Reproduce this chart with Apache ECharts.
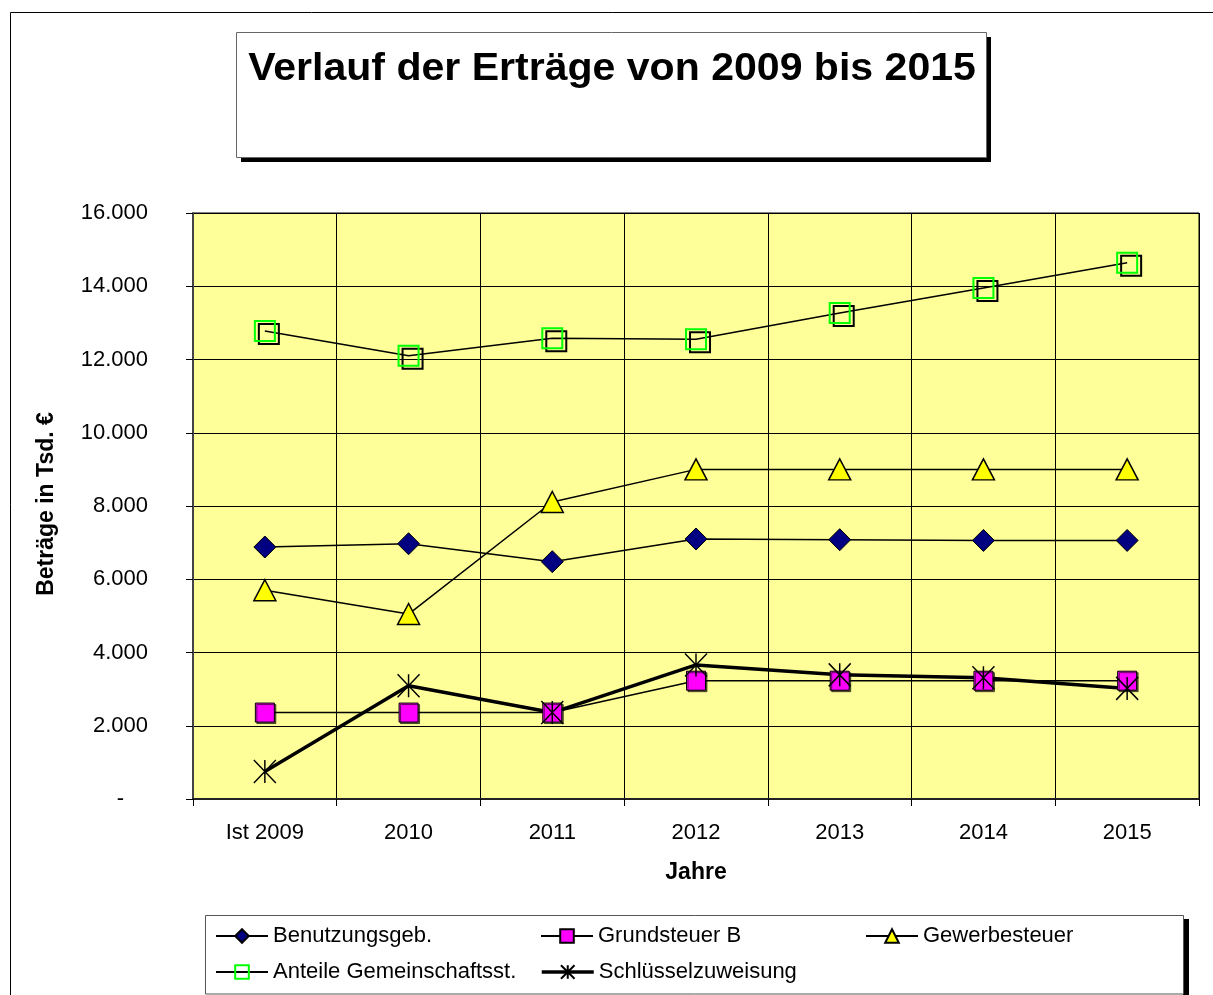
<!DOCTYPE html>
<html>
<head>
<meta charset="utf-8">
<script src="https://cdn.jsdelivr.net/npm/echarts@6/dist/echarts.min.js"></script>
<style>
html,body{margin:0;padding:0;background:#fff;}
#chart{width:1213px;height:995px;}
</style>
</head>
<body>
<div id="chart"></div>
<script>
const titleText = 'Verlauf der Erträge von 2009 bis 2015';
const yAxisTitle = 'Beträge in Tsd. €';
const xAxisTitle = 'Jahre';
const categories = ['Ist 2009', '2010', '2011', '2012', '2013', '2014', '2015'];
const seriesNames = ['Benutzungsgeb.', 'Grundsteuer B', 'Gewerbesteuer', 'Anteile Gemeinschaftsst.', 'Schlüsselzuweisung'];
const benutzungsgeb = [6880, 6970, 6480, 7100, 7080, 7060, 7060];
const grundsteuerB = [2360, 2360, 2360, 3230, 3230, 3230, 3230];
const gewerbesteuer = [5700, 5050, 8110, 9000, 9000, 9000, 9000];
const anteileGemeinschaftsst = [12780, 12100, 12580, 12550, 13270, 13950, 14640];
const schluesselzuweisung = [750, 3090, 2360, 3660, 3390, 3310, 3020];
const yMin = 0, yMax = 16000, yStep = 2000;

const FONT = "'Liberation Sans', Arial, sans-serif";
const chart = echarts.init(document.getElementById('chart'), null, {renderer: 'canvas'});

function fmt(v) {
  if (v === 0) return '{d|-}';
  return String(v).replace(/\B(?=(\d{3})+(?!\d))/g, '.');
}

const baseLine = {color: '#000', width: 1.5};
const legendCommon = {
  padding: 0, itemWidth: 52, itemHeight: 17, itemGap: 0,
  textStyle: {fontFamily: FONT, fontSize: 22, color: '#000'},
  selectedMode: false
};

const option = {
  animation: false,
  backgroundColor: '#fff',
  grid: {left: 193, top: 213, width: 1006, height: 586, show: true,
         backgroundColor: '#FFFF99', borderColor: '#000', borderWidth: 1, containLabel: false},
  xAxis: {
    type: 'category', data: categories, boundaryGap: true,
    axisLine: {lineStyle: {color: '#222', width: 2}},
    axisTick: {show: true, length: 7, lineStyle: {color: '#000', width: 1}},
    axisLabel: {fontFamily: FONT, fontSize: 22, color: '#000', margin: 23},
    splitLine: {show: true, lineStyle: {color: '#000', width: 1}}
  },
  yAxis: {
    type: 'value', min: yMin, max: yMax, interval: yStep,
    axisLine: {show: true, lineStyle: {color: '#444', width: 2}},
    axisTick: {show: true, length: 7, lineStyle: {color: '#000', width: 1}},
    axisLabel: {fontFamily: FONT, fontSize: 22, color: '#000', margin: 45,
                formatter: fmt, rich: {d: {fontFamily: FONT, fontSize: 22, color: '#000', padding: [0, 24, 0, 0]}}},
    splitLine: {show: true, lineStyle: {color: '#000', width: 1}}
  },
  legend: [
    Object.assign({data: [seriesNames[0]], left: 215, top: 925}, legendCommon),
    Object.assign({data: [seriesNames[1]], left: 540, top: 925}, legendCommon),
    Object.assign({data: [seriesNames[2]], left: 865, top: 925}, legendCommon),
    Object.assign({data: [seriesNames[3]], left: 215, top: 961}, legendCommon),
    Object.assign({data: [seriesNames[4]], left: 540, top: 961, lineStyle: {width: 3.5}}, legendCommon)
  ],
  series: [
    {name: seriesNames[0], type: 'line', data: benutzungsgeb, symbol: 'diamond', symbolSize: 22,
     lineStyle: baseLine, itemStyle: {color: '#000080', borderColor: '#000', borderWidth: 1},
     emphasis: {disabled: true}},
    {name: seriesNames[1], type: 'line', data: grundsteuerB, symbol: 'rect', symbolSize: 19,
     lineStyle: baseLine, itemStyle: {color: '#FF00FF', borderColor: '#000', borderWidth: 1,
       shadowColor: 'rgba(0,0,0,0.6)', shadowOffsetX: 1.5, shadowOffsetY: 1.5, shadowBlur: 0},
     emphasis: {disabled: true}},
    {name: seriesNames[2], type: 'line', data: gewerbesteuer, symbol: 'triangle', symbolSize: [22, 21],
     lineStyle: baseLine, itemStyle: {color: '#FFFF00', borderColor: '#000', borderWidth: 1.5},
     emphasis: {disabled: true}},
    {name: seriesNames[3], type: 'line', data: anteileGemeinschaftsst, symbol: 'rect', symbolSize: 20,
     lineStyle: baseLine, itemStyle: {color: 'rgba(0,0,0,0)', borderColor: '#00FF00', borderWidth: 2,
       shadowColor: '#000', shadowOffsetX: 4, shadowOffsetY: 3, shadowBlur: 0},
     emphasis: {disabled: true}},
    {name: seriesNames[4], type: 'line', data: schluesselzuweisung,
     symbol: 'path://M0,0L22,23M22,0L0,23M11,0L11,23', symbolSize: [22, 23],
     lineStyle: {color: '#000', width: 3.5}, itemStyle: {color: '#000', borderColor: '#000', borderWidth: 1.5},
     emphasis: {disabled: true}}
  ],
  graphic: [
    {type: 'rect', z: 0, silent: true, shape: {x: 10.5, y: 12.5, width: 1300, height: 1100},
     style: {fill: 'none', stroke: '#000', lineWidth: 1}},
    {type: 'rect', z: 1, silent: true, shape: {x: 241, y: 37, width: 750, height: 125}, style: {fill: '#000'}},
    {type: 'rect', z: 2, silent: true, shape: {x: 236.5, y: 32.5, width: 750, height: 125},
     style: {fill: '#fff', stroke: '#666', lineWidth: 1}},
    {type: 'text', z: 10, silent: true, x: 612, y: 70, scaleX: 1.08, scaleY: 1,
     style: {text: titleText, fontFamily: FONT, fontSize: 38, fontWeight: 'bold', fill: '#000',
             align: 'center', verticalAlign: 'middle'}},
    {type: 'rect', z: 1, silent: true, shape: {x: 1183, y: 919, width: 6, height: 100}, style: {fill: '#000'}},
    {type: 'rect', z: 2, silent: true, shape: {x: 205.5, y: 915.5, width: 978, height: 78.5},
     style: {fill: '#fff', stroke: '#555', lineWidth: 1}},
    {type: 'text', z: 10, silent: true, x: 47, y: 504, rotation: Math.PI / 2,
     style: {text: yAxisTitle, fontFamily: FONT, fontSize: 23, fontWeight: 'bold', fill: '#000',
             align: 'center', verticalAlign: 'middle'}},
    {type: 'text', z: 10, silent: true, x: 696, y: 873,
     style: {text: xAxisTitle, fontFamily: FONT, fontSize: 23, fontWeight: 'bold', fill: '#000',
             align: 'center', verticalAlign: 'middle'}}
  ]
};
chart.setOption(option);
</script>
</body>
</html>
